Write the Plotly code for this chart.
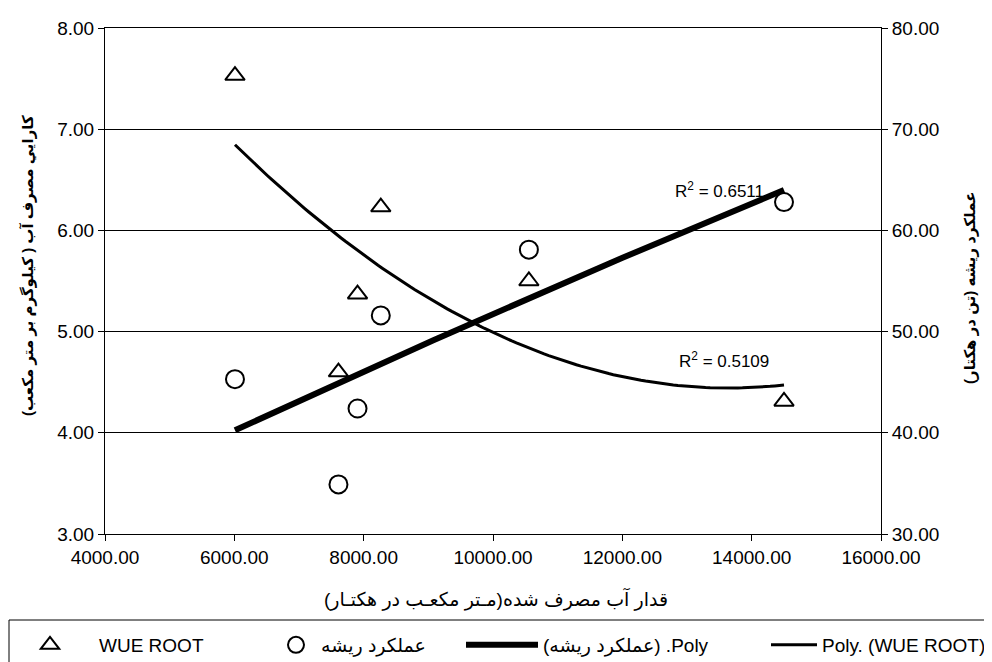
import numpy as np
import plotly.graph_objects as go

# ---- data ----
water_used = [6010, 7610, 7905, 8265, 10555, 14500]      # m3/ha (x)
wue_root = [7.53, 4.60, 5.37, 6.23, 5.50, 4.31]           # left axis
root_yield = [45.3, 34.9, 42.4, 51.6, 58.1, 62.8]         # right axis
r2_yield = "0.6511"
r2_wue = "0.5109"

x_ticks = [4000, 6000, 8000, 10000, 12000, 14000, 16000]

FONT = "Arial, 'Liberation Sans', 'DejaVu Sans', sans-serif"

# polynomial (order 2) trendlines fitted to the data
xs = np.linspace(min(water_used), max(water_used), 120)
fit_wue = np.polyval(np.polyfit(water_used, wue_root, 2), xs)
fit_yield = np.polyval(np.polyfit(water_used, root_yield, 2), xs)

L = 97
R = 992 - 873
T = 20
B = 662 - 526
PW = 992 - L - R
PH = 662 - T - B


def px(xpix):
    return (xpix - L) / PW


def py(ypix):
    return (662 - B - ypix) / PH


fig = go.Figure()

fig.add_trace(go.Scatter(
    x=water_used, y=wue_root, mode="markers", name="WUE ROOT",
    marker=dict(symbol="triangle-up-open", size=17, color="black",
                line=dict(width=2, color="black")),
    legend="legend"))
fig.add_trace(go.Scatter(
    x=water_used, y=root_yield, mode="markers", name="عملكرد ريشه",
    yaxis="y2",
    marker=dict(symbol="circle-open", size=18, color="black",
                line=dict(width=2, color="black")),
    legend="legend2"))
fig.add_trace(go.Scatter(
    x=xs, y=fit_yield, mode="lines", name="(عملكرد ريشه) .Poly",
    yaxis="y2", line=dict(color="black", width=6),
    legend="legend3"))
fig.add_trace(go.Scatter(
    x=xs, y=fit_wue, mode="lines", name="Poly. (WUE ROOT)",
    line=dict(color="black", width=3),
    legend="legend4"))

leg_common = dict(orientation="h", yanchor="middle", y=py(637),
                  xanchor="left", bgcolor="rgba(0,0,0,0)",
                  font=dict(family=FONT, size=19, color="black"))

fig.update_layout(
    width=992, height=662,
    margin=dict(l=L, r=R, t=T, b=B, autoexpand=False),
    paper_bgcolor="white", plot_bgcolor="white",
    font=dict(family=FONT, size=18, color="black"),
    xaxis=dict(range=[4000, 16000], tickvals=x_ticks, tickformat=".2f",
               showgrid=False, zeroline=False, showline=True,
               linecolor="black", linewidth=1, mirror=True,
               ticks="outside", ticklen=6, tickcolor="black",
               tickfont=dict(size=19)),
    yaxis=dict(range=[3, 8], dtick=1, tickformat=".2f",
               showgrid=True, gridcolor="black", gridwidth=1,
               zeroline=False, showline=True, linecolor="black",
               ticks="outside", ticklen=6, tickcolor="black",
               tickfont=dict(size=19)),
    yaxis2=dict(range=[30, 80], dtick=10, tickformat=".2f",
                overlaying="y", side="right", showgrid=False,
                zeroline=False, showline=True, linecolor="black",
                ticks="outside", ticklen=6, tickcolor="black",
                tickfont=dict(size=19)),
    legend=dict(leg_common, x=px(-7), itemwidth=88),
    legend2=dict(leg_common, x=px(263), itemwidth=40),
    legend3=dict(leg_common, x=px(453), itemwidth=72),
    legend4=dict(leg_common, x=px(758), itemwidth=46),
    showlegend=True,
)

# legend frame
fig.add_shape(type="rect", xref="paper", yref="paper",
              x0=px(1), x1=px(991), y0=py(664), y1=py(612),
              line=dict(color="black", width=1), fillcolor="rgba(0,0,0,0)")

# axis titles
fig.add_annotation(
    text="<b>كارايي مصرف آب ( كيلوگرم بر متر مكعب)</b>",
    xref="paper", yref="paper", x=px(20), y=py(258), textangle=-90,
    xanchor="center", yanchor="middle",
    showarrow=False, font=dict(size=15))
fig.add_annotation(
    text="<b>عملكرد ريشه (تن در هكتار)</b>",
    xref="paper", yref="paper", x=px(962), y=py(280), textangle=-90,
    xanchor="center", yanchor="middle",
    showarrow=False, font=dict(size=15))
fig.add_annotation(
    text="قدار آب مصرف شده(مـتر مكعـب در هكتـار)",
    xref="paper", yref="paper", x=px(488), y=py(591),
    xanchor="center", yanchor="middle",
    showarrow=False, font=dict(size=19))

# R^2 labels
fig.add_annotation(text="R<sup>2</sup> = " + r2_yield, xref="paper", yref="paper",
                   x=px(758), y=py(182), xanchor="right", yanchor="middle",
                   showarrow=False, font=dict(size=17))
fig.add_annotation(text="R<sup>2</sup> = " + r2_wue, xref="paper", yref="paper",
                   x=px(763), y=py(352), xanchor="right", yanchor="middle",
                   showarrow=False, font=dict(size=17))

fig.write_html("out.html")
